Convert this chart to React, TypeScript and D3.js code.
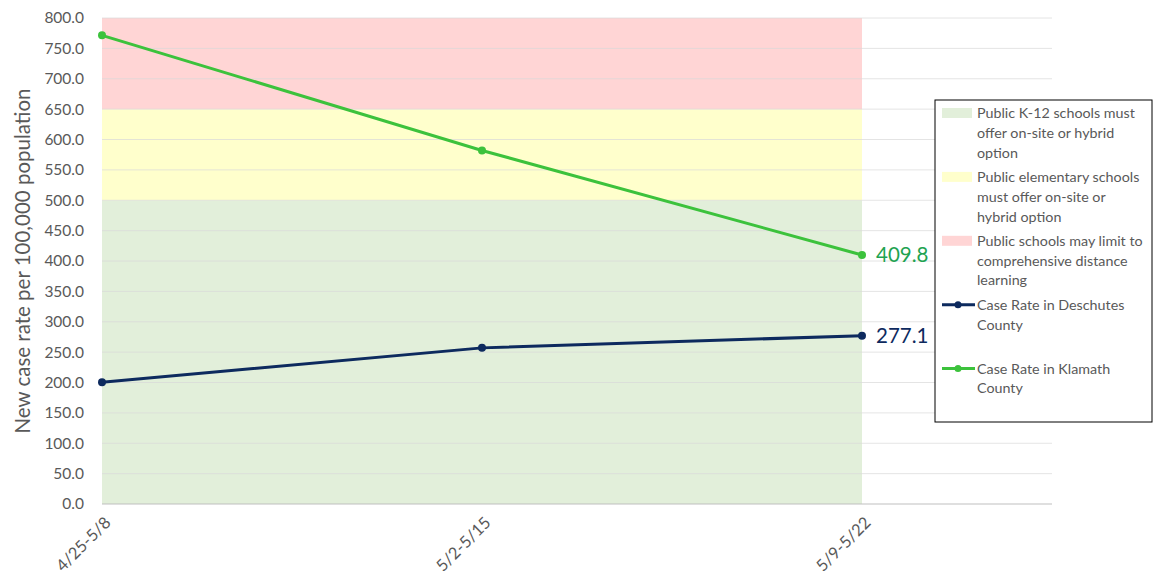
import React from "react";
import * as d3 from "d3";

const categories = ["4/25-5/8", "5/2-5/15", "5/9-5/22"];
const deschutes = [200.5, 257.0, 277.1];
const klamath = [771.5, 582.0, 409.8];
const yTicks = [0, 50, 100, 150, 200, 250, 300, 350, 400, 450, 500, 550, 600, 650, 700, 750, 800];
const bands = [
  { from: 0, to: 500, color: "#E2EFDA", label: ["Public K-12 schools must", "offer on-site or hybrid", "option"] },
  { from: 500, to: 650, color: "#FFFFCC", label: ["Public elementary schools", "must offer on-site or", "hybrid option"] },
  { from: 650, to: 800, color: "#FFD5D5", label: ["Public schools may limit to", "comprehensive distance", "learning"] },
];
const series = [
  { name: ["Case Rate in Deschutes", "County"], values: deschutes, color: "#0D2A5E", labelColor: "#0D2A5E" },
  { name: ["Case Rate in Klamath", "County"], values: klamath, color: "#3CC23C", labelColor: "#1FA352" },
];

const W = 1156;
const H = 581;
const font = "Lato, 'Open Sans', sans-serif";

export default function App() {
  const x = d3.scalePoint<string>().domain(categories).range([102, 862]);
  const y = d3.scaleLinear().domain([0, 800]).range([504, 18]);
  const gridRight = 1052;
  const line = d3
    .line<number>()
    .x((_, i) => x(categories[i]) as number)
    .y((d) => y(d));

  const x0 = x(categories[0]) as number;
  const xN = x(categories[categories.length - 1]) as number;

  // legend layout
  const legendX = 935;
  const legendY = 100;
  const rowH = 19.8;
  const legendRows: { kind: "band" | "line"; color: string; lines: string[]; top: number }[] = [];
  let cur = legendY + 13;
  bands.forEach((b) => {
    legendRows.push({ kind: "band", color: b.color, lines: b.label, top: cur });
    cur += rowH * 3 + 4.5;
  });
  series.forEach((s) => {
    legendRows.push({ kind: "line", color: s.color, lines: s.name, top: cur });
    cur += rowH * 3 + 4.5;
  });

  return (
    <svg width={W} height={H} style={{ position: "absolute", left: 0, top: 0, background: "#fff" }}>
      {bands.map((b, i) => (
        <rect key={i} x={x0} y={y(b.to)} width={xN - x0} height={y(b.from) - y(b.to)} fill={b.color} />
      ))}
      {yTicks.map((t) => (
        <line
          key={t}
          x1={x0}
          x2={gridRight}
          y1={y(t)}
          y2={y(t)}
          stroke={t === 0 ? "#BFBFBF" : "#D9D9D9"}
          strokeOpacity={t === 0 ? 1 : 0.7}
          strokeWidth={1}
        />
      ))}
      {yTicks.map((t) => (
        <text key={t} x={84} y={y(t)} dy="0.35em" textAnchor="end" fontFamily={font} fontSize={15.5} fill="#595959">
          {t.toFixed(1)}
        </text>
      ))}
      <text
        transform={`translate(30, ${y(400)}) rotate(-90)`}
        textAnchor="middle"
        fontFamily={font}
        fontSize={20.5}
        fill="#595959"
      >
        New case rate per 100,000 population
      </text>
      {categories.map((c) => (
        <text
          key={c}
          transform={`translate(${(x(c) as number) + 1}, ${515}) rotate(-45)`}
          textAnchor="end"
          dy="0.75em"
          fontFamily={font}
          fontSize={16.5}
          fill="#595959"
        >
          {c}
        </text>
      ))}
      {series.map((s, si) => (
        <g key={si}>
          <path d={line(s.values) || ""} fill="none" stroke={s.color} strokeWidth={3} />
          {s.values.map((v, i) => (
            <circle key={i} cx={x(categories[i]) as number} cy={y(v)} r={4} fill={s.color} />
          ))}
          <text
            x={xN + 14}
            y={y(s.values[s.values.length - 1])}
            dy="0.35em"
            fontFamily={font}
            fontSize={20.5}
            fill={s.labelColor}
          >
            {s.values[s.values.length - 1].toFixed(1)}
          </text>
        </g>
      ))}
      <rect x={legendX} y={legendY} width={217} height={322} fill="#fff" stroke="#000" strokeWidth={1} />
      {legendRows.map((r, i) => (
        <g key={i}>
          {r.kind === "band" ? (
            <rect x={942} y={r.top - 5} width={30} height={10} fill={r.color} />
          ) : (
            <g>
              <line x1={942} x2={975} y1={r.top} y2={r.top} stroke={r.color} strokeWidth={3} />
              <circle cx={958} cy={r.top} r={3.5} fill={r.color} />
            </g>
          )}
          {r.lines.map((l, j) => (
            <text
              key={j}
              x={977}
              y={r.top + j * rowH}
              dy="0.35em"
              fontFamily={font}
              fontSize={14.3}
              fill="#595959"
            >
              {l}
            </text>
          ))}
        </g>
      ))}
    </svg>
  );
}
